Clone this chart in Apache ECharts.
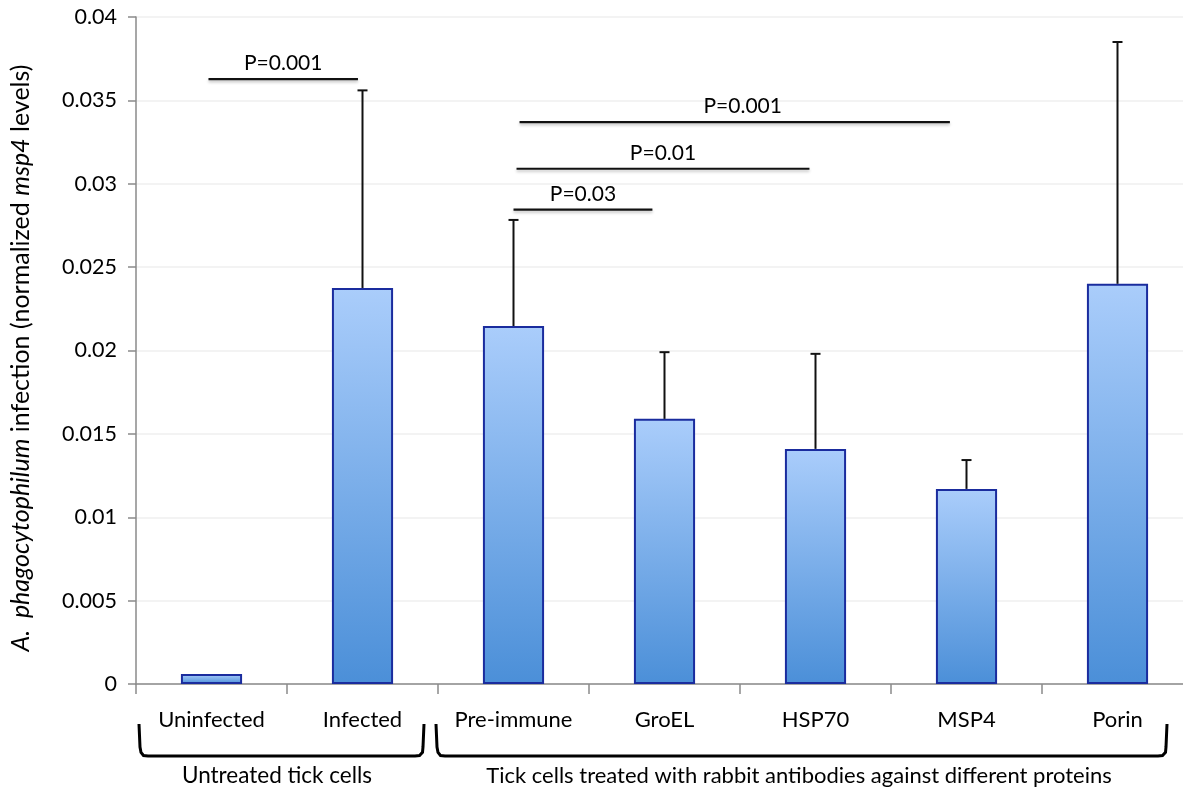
<!DOCTYPE html>
<html><head><meta charset="utf-8">
<script src="https://cdn.jsdelivr.net/npm/echarts@6/dist/echarts.min.js"></script>
<style>html,body{margin:0;padding:0;background:#fff}#c{width:1183px;height:790px}</style>
</head><body><div id="c"></div>
<script>
const categories = ['Uninfected','Infected','Pre-immune','GroEL','HSP70','MSP4','Porin'];
const means = [0.0006, 0.02375, 0.02147, 0.0159, 0.0141, 0.0117, 0.0240];
const errTops = [0.0006, 0.0356, 0.02783, 0.0199, 0.0198, 0.01343, 0.0385];
const yTicks = [0, 0.005, 0.01, 0.015, 0.02, 0.025, 0.03, 0.035, 0.04];
// significance bars: start/end positions along the category axis (index units)
const sigFrom = [-0.02, 2.04, 2.02, 2.0];
const sigTo = [0.97, 4.89, 3.96, 2.92];
const sigY = [0.03628, 0.03370, 0.03090, 0.02845];
const sigLabel = ['P=0.001','P=0.001','P=0.01','P=0.03'];
const groupLabels = ['Untreated tick cells','Tick cells treated with rabbit antibodies against different proteins'];

const FONT = 'Lato, "Open Sans", sans-serif';
const chart = echarts.init(document.getElementById('c'));

function bracket(x1, x2, yTop, yBot, r){
  return [[x1, yTop],[x1+1, yBot-r],[x1+2, yBot-r*0.4],[x1+r*0.5, yBot-0.5],[x1+r, yBot],
          [x2-r, yBot],[x2-r*0.5, yBot-0.5],[x2-1.5, yBot-r*0.4],[x2-1, yBot-r],[x2, yTop]];
}

function posX(api, idx){
  const base = Math.round(idx);
  const band = api.size([1,0])[0];
  return api.coord([base, 0])[0] + (idx - base) * band;
}

chart.setOption({
  animation:false,
  grid:{left:136, width:1057, top:17, height:667, outerBoundsMode:'none', containLabel:false},
  xAxis:{
    type:'category', data:categories,
    axisLine:{lineStyle:{color:'#8a8a8a', width:1.5}},
    axisTick:{show:true, length:10, lineStyle:{color:'#8a8a8a', width:1.5}},
    axisLabel:{fontFamily:FONT, fontSize:22, color:'#000', margin:25, interval:0, hideOverlap:false}
  },
  yAxis:{
    type:'value', min:0, max:0.04, interval:0.005,
    axisLine:{show:true, lineStyle:{color:'#8a8a8a', width:1.5}},
    axisTick:{show:true, length:8, lineStyle:{color:'#8a8a8a', width:1.5}},
    axisLabel:{fontFamily:FONT, fontSize:21.5, color:'#000', margin:19,
      formatter:v=>{const t=yTicks.find(x=>Math.abs(x-v)<1e-9);return String(t!==undefined?t:v);}},
    splitLine:{lineStyle:{color:'#efefef', width:1.5}}
  },
  series:[
    {
      type:'bar', data:means, barWidth:'40.5%',
      itemStyle:{
        color:{type:'linear', x:0, y:0, x2:0, y2:1, colorStops:[
          {offset:0,color:'#aacdfb'},{offset:1,color:'#4b8fd8'}]},
        borderColor:'#1a2c9e', borderWidth:2
      }
    },
    {
      type:'custom', z:5,
      data:errTops.map((t,i)=>[i, means[i], t]),
      renderItem:(params, api)=>{
        const lo = api.coord([api.value(0), api.value(1)]);
        const hi = api.coord([api.value(0), api.value(2)]);
        if (Math.abs(lo[1]-hi[1]) < 2) return null;
        const s = {stroke:'#111', lineWidth:2};
        return {type:'group', children:[
          {type:'line', shape:{x1:lo[0],y1:lo[1],x2:hi[0],y2:hi[1]}, style:s},
          {type:'line', shape:{x1:hi[0]-5,y1:hi[1],x2:hi[0]+5,y2:hi[1]}, style:s}
        ]};
      }
    },
    {
      type:'custom', z:6,
      data:sigFrom.map((f,i)=>[f, sigTo[i], sigY[i], i]),
      renderItem:(params, api)=>{
        const x1 = posX(api, api.value(0));
        const x2 = posX(api, api.value(1));
        const y = api.coord([0, api.value(2)])[1];
        const i = api.value(3);
        const lbl = sigLabel[i];
        const cx = (x1+x2)/2 + (i===1 ? 8 : 0);
        return {type:'group', children:[
          {type:'line', shape:{x1:x1,y1:y,x2:x2,y2:y},
           style:{stroke:'#111', lineWidth:2.2, shadowColor:'rgba(0,0,0,0.25)', shadowBlur:3, shadowOffsetY:2}},
          {type:'text', style:{text:lbl, x:cx, y:y-5, textAlign:'center', textVerticalAlign:'bottom',
            fontFamily:FONT, fontSize:21, fill:'#000'}}
        ]};
      }
    }
  ],
  graphic:[
    {type:'text', rotation:Math.PI/2, x:21, y:358,
     style:{text:'{i|A.  phagocytophilum}{n| infection (normalized }{i|msp4}{n| levels)}',
       textAlign:'center', textVerticalAlign:'middle',
       rich:{
         i:{fontFamily:FONT, fontSize:25, fontStyle:'italic', fill:'#000'},
         n:{fontFamily:FONT, fontSize:25, fill:'#000'}
       }}},
    {type:'polyline', shape:{points:bracket(139, 424, 724, 756, 9)},
     style:{stroke:'#000', lineWidth:3, fill:null}},
    {type:'polyline', shape:{points:bracket(436, 1167, 724, 756, 9)},
     style:{stroke:'#000', lineWidth:3, fill:null}},
    {type:'text', style:{text:groupLabels[0], x:277, y:776, fontFamily:FONT, fontSize:22.5, fill:'#000', textAlign:'center', textVerticalAlign:'middle'}},
    {type:'text', style:{text:groupLabels[1], x:799, y:776, fontFamily:FONT, fontSize:22, fill:'#000', textAlign:'center', textVerticalAlign:'middle'}}
  ]
});
</script></body></html>
